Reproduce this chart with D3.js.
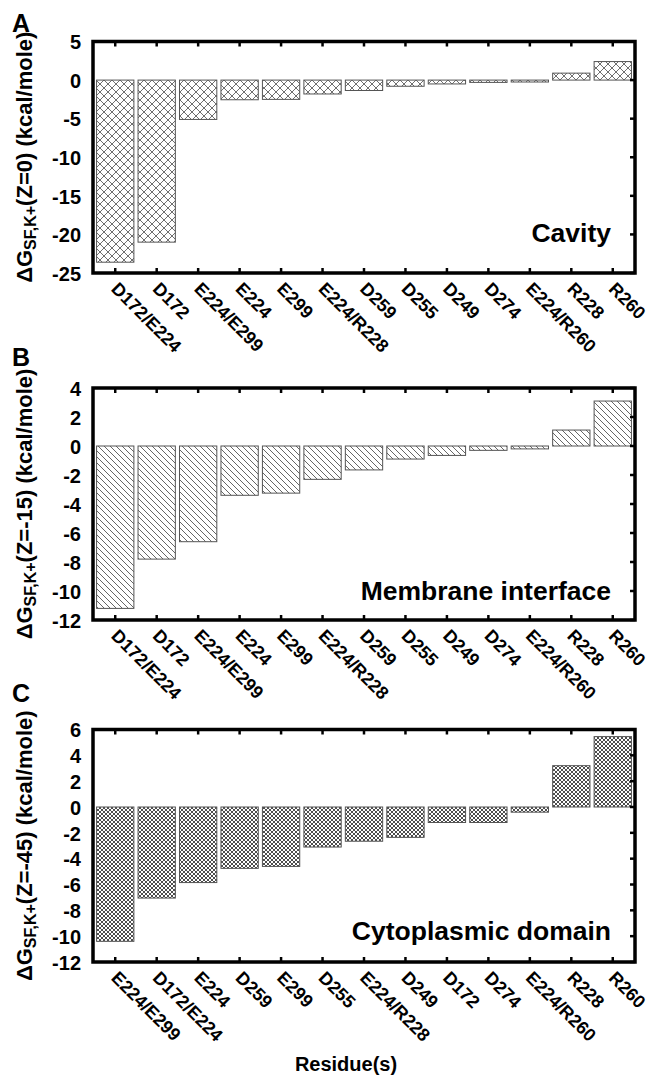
<!DOCTYPE html>
<html>
<head>
<meta charset="utf-8">
<script src="https://cdn.jsdelivr.net/npm/d3@7"></script>
<style>
  body { margin: 0; background: #fff; }
  text { font-family: "Liberation Sans", Arial, Helvetica, sans-serif; font-weight: bold; fill: #000; }
</style>
</head>
<body>
<svg id="chart" width="655" height="1081"></svg>
<script>
// Per-residue K+ binding free energy at the selectivity filter (kcal/mole)
const residuesA = ["D172/E224", "D172", "E224/E299", "E224", "E299", "E224/R228", "D259", "D255", "D249", "D274", "E224/R260", "R228", "R260"];
const valuesA   = [-23.6, -21.0, -5.1, -2.55, -2.5, -1.8, -1.35, -0.8, -0.5, -0.3, -0.25, 0.9, 2.4];
const ticksA    = [5, 0, -5, -10, -15, -20, -25];

const residuesB = ["D172/E224", "D172", "E224/E299", "E224", "E299", "E224/R228", "D259", "D255", "D249", "D274", "E224/R260", "R228", "R260"];
const valuesB   = [-11.2, -7.8, -6.6, -3.4, -3.25, -2.3, -1.65, -0.9, -0.65, -0.3, -0.2, 1.1, 3.1];
const ticksB    = [4, 2, 0, -2, -4, -6, -8, -10, -12];

const residuesC = ["E224/E299", "D172/E224", "E224", "D259", "E299", "D255", "E224/R228", "D249", "D172", "D274", "E224/R260", "R228", "R260"];
const valuesC   = [-10.4, -7.05, -5.85, -4.75, -4.6, -3.1, -2.65, -2.35, -1.2, -1.2, -0.4, 3.2, 5.45];
const ticksC    = [6, 4, 2, 0, -2, -4, -6, -8, -10, -12];

const panelLetters = ["A", "B", "C"];
const zPositions   = ["0", "-15", "-45"];
const regionNames  = ["Cavity", "Membrane interface", "Cytoplasmic domain"];

// Layout of the three stacked panels
const frameLeft = 93, frameRight = 635;
const layout = [
  { top: 41.5, bottom: 273, hatch: "hatchWide",   nameY: 242, letterY: 32 },
  { top: 388,  bottom: 620, hatch: "hatchSingle", nameY: 600, letterY: 366 },
  { top: 729.5, bottom: 962, hatch: "hatchFine",  nameY: 940, letterY: 702 }
];

const panels = [
  { residues: residuesA, values: valuesA, ticks: ticksA },
  { residues: residuesB, values: valuesB, ticks: ticksB },
  { residues: residuesC, values: valuesC, ticks: ticksC }
];

const svg = d3.select("#chart");
svg.append("rect").attr("width", 655).attr("height", 1081).attr("fill", "#fff");

// Hatch fills
const defs = svg.append("defs");
const hatchColor = "#4a4a4a";
{
  const p = defs.append("pattern").attr("id", "hatchWide").attr("patternUnits", "userSpaceOnUse")
    .attr("width", 8).attr("height", 8);
  p.append("path").attr("d", "M0,0L8,8M0,8L8,0").attr("stroke", hatchColor).attr("stroke-width", 0.8);
}
{
  const p = defs.append("pattern").attr("id", "hatchSingle").attr("patternUnits", "userSpaceOnUse")
    .attr("width", 6).attr("height", 6);
  p.append("path").attr("d", "M0,0L6,6M-1,5L1,7M5,-1L7,1").attr("stroke", hatchColor).attr("stroke-width", 0.85);
}
{
  const p = defs.append("pattern").attr("id", "hatchFine").attr("patternUnits", "userSpaceOnUse")
    .attr("width", 4).attr("height", 4);
  p.append("path").attr("d", "M0,0L4,4M0,4L4,0").attr("stroke", "#3a3a3a").attr("stroke-width", 0.9);
}

panels.forEach((panel, i) => {
  const L = layout[i];
  const g = svg.append("g");

  const x = d3.scaleBand()
    .domain(panel.residues)
    .range([frameLeft + 1.5, frameRight - 1.5])
    .paddingInner(0.1)
    .paddingOuter(0.05);

  const yExtent = d3.extent(panel.ticks);
  const y = d3.scaleLinear().domain(yExtent).range([L.bottom, L.top]);

  // Bars
  g.selectAll("rect.bar")
    .data(panel.values)
    .join("rect")
    .attr("class", "bar")
    .attr("x", (d, k) => x(panel.residues[k]))
    .attr("width", x.bandwidth())
    .attr("y", d => Math.min(y(d), y(0)))
    .attr("height", d => Math.abs(y(d) - y(0)))
    .attr("fill", `url(#${L.hatch})`)
    .attr("stroke", "#555")
    .attr("stroke-width", 1);

  // Inward ticks: top and bottom at each residue, right side at each value tick
  const tickLen = 5;
  const centers = panel.residues.map(r => x(r) + x.bandwidth() / 2);
  g.selectAll("line.tt").data(centers).join("line")
    .attr("x1", d => d).attr("x2", d => d)
    .attr("y1", L.top).attr("y2", L.top + tickLen)
    .attr("stroke", "#000").attr("stroke-width", 2.5);
  g.selectAll("line.tb").data(centers).join("line")
    .attr("x1", d => d).attr("x2", d => d)
    .attr("y1", L.bottom).attr("y2", L.bottom - tickLen)
    .attr("stroke", "#000").attr("stroke-width", 2.5);
  g.selectAll("line.tr").data(panel.ticks).join("line")
    .attr("x1", frameRight).attr("x2", frameRight - tickLen)
    .attr("y1", d => y(d)).attr("y2", d => y(d))
    .attr("stroke", "#000").attr("stroke-width", 2.5);

  // Frame
  g.append("rect")
    .attr("x", frameLeft).attr("y", L.top)
    .attr("width", frameRight - frameLeft).attr("height", L.bottom - L.top)
    .attr("fill", "none").attr("stroke", "#000").attr("stroke-width", 3.5);

  // Value tick labels
  const yAxis = d3.axisLeft(y).tickValues(panel.ticks).tickSize(0).tickPadding(0).tickFormat(d3.format("d"));
  const ya = g.append("g").attr("transform", `translate(81,0)`).call(yAxis);
  ya.select(".domain").remove();
  ya.selectAll("text")
    .attr("font-size", 20)
    .attr("font-family", '"Liberation Sans", Arial, sans-serif')
    .attr("dy", "0.36em")
    .text(d => d < 0 ? "-" + Math.abs(d) : String(d));

  // Residue labels, rotated
  g.selectAll("text.res").data(panel.residues).join("text")
    .attr("class", "res")
    .attr("transform", r => `translate(${x(r) + x.bandwidth() / 2 - 5},${L.bottom + 17}) rotate(45)`)
    .attr("font-size", 18)
    .text(r => r);

  // Y title
  const cy = (L.top + L.bottom) / 2;
  const t = g.append("text")
    .attr("transform", `translate(32,${cy}) rotate(-90)`)
    .attr("text-anchor", "middle")
    .attr("font-size", 22);
  t.append("tspan").text("ΔG");
  t.append("tspan").attr("font-size", 16).attr("dy", 4).text("SF,K+");
  t.append("tspan").attr("dy", -4).text(`(Z=${zPositions[i]}) (kcal/mole)`);

  // Panel letter
  g.append("text").attr("x", 12).attr("y", L.letterY).attr("font-size", 25).text(panelLetters[i]);

  // Region name
  g.append("text").attr("x", 611).attr("y", L.nameY).attr("text-anchor", "end")
    .attr("font-size", 26.5).text(regionNames[i]);
});

// Shared x title
svg.append("text").attr("x", 346).attr("y", 1071).attr("text-anchor", "middle")
  .attr("font-size", 20).text("Residue(s)");
</script>
</body>
</html>
